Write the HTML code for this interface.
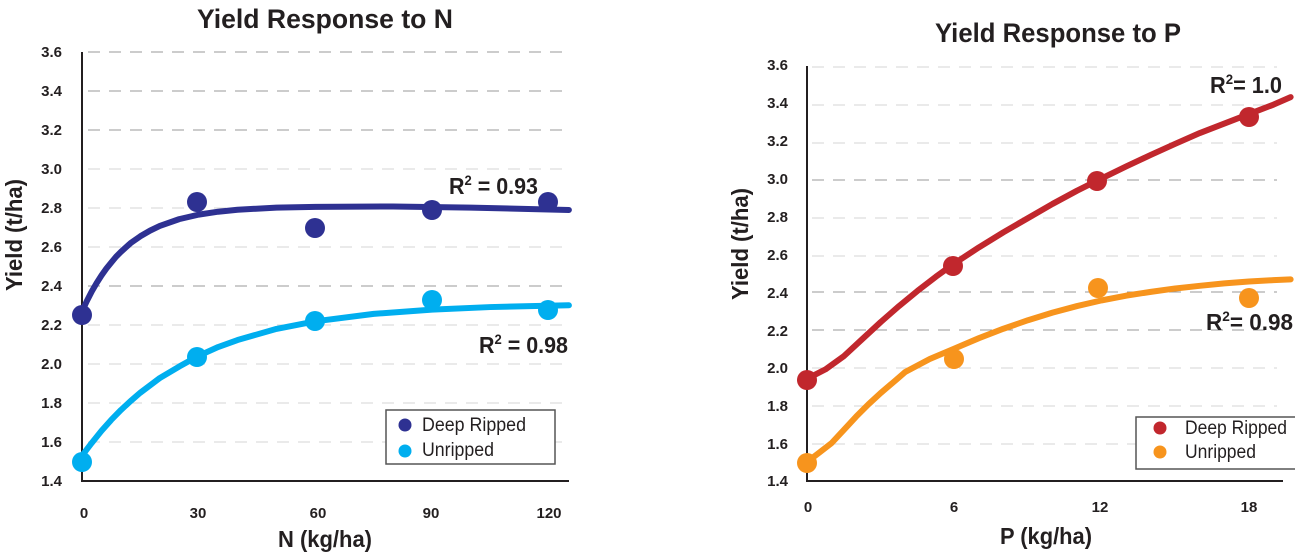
<!DOCTYPE html>
<html><head><meta charset="utf-8"><style>
html,body{margin:0;padding:0;background:#fff}
svg{display:block}
text{font-family:"Liberation Sans",sans-serif;fill:#231f20}
.t{font-weight:bold;font-size:27px}
.tk{font-weight:bold;font-size:15px}
.ax{font-weight:bold;font-size:23px}
.r{font-weight:bold;font-size:23px}
.lg{font-size:19px}
.g{stroke:#9a9a9a;stroke-width:1;stroke-dasharray:12 9}
.g2{stroke:#d6d6d6;stroke-width:1;stroke-dasharray:12 9}
</style></head><body>
<svg width="1295" height="552" viewBox="0 0 1295 552">
<!-- LEFT CHART -->
<text class="t" x="325" y="28" text-anchor="middle" textLength="256" lengthAdjust="spacingAndGlyphs">Yield Response to N</text>
<g>
<line class="g" x1="88" x2="563" y1="52" y2="52"/>
<line class="g" x1="88" x2="563" y1="91" y2="91"/>
<line class="g" x1="88" x2="563" y1="130" y2="130"/>
<line class="g2" x1="88" x2="563" y1="169" y2="169"/>
<line class="g2" x1="88" x2="563" y1="208" y2="208"/>
<line class="g2" x1="88" x2="563" y1="247" y2="247"/>
<line class="g" x1="88" x2="563" y1="286" y2="286"/>
<line class="g2" x1="88" x2="563" y1="325" y2="325"/>
<line class="g2" x1="88" x2="563" y1="364" y2="364"/>
<line class="g2" x1="88" x2="563" y1="403" y2="403"/>
<line class="g2" x1="88" x2="563" y1="442" y2="442"/>
</g>
<line x1="82" y1="52" x2="82" y2="482" stroke="#231f20" stroke-width="2"/>
<line x1="81" y1="481" x2="569" y2="481" stroke="#231f20" stroke-width="2"/>
<g text-anchor="end">
<text class="tk" x="62" y="57">3.6</text><text class="tk" x="62" y="96">3.4</text><text class="tk" x="62" y="135">3.2</text>
<text class="tk" x="62" y="174">3.0</text><text class="tk" x="62" y="213">2.8</text><text class="tk" x="62" y="252">2.6</text>
<text class="tk" x="62" y="291">2.4</text><text class="tk" x="62" y="330">2.2</text><text class="tk" x="62" y="369">2.0</text>
<text class="tk" x="62" y="408">1.8</text><text class="tk" x="62" y="447">1.6</text><text class="tk" x="62" y="486">1.4</text>
</g>
<g text-anchor="middle">
<text class="tk" x="84" y="518">0</text><text class="tk" x="198" y="518">30</text><text class="tk" x="318" y="518">60</text>
<text class="tk" x="431" y="518">90</text><text class="tk" x="549" y="518">120</text>
</g>
<text class="ax" x="278" y="547" textLength="94" lengthAdjust="spacingAndGlyphs">N (kg/ha)</text>
<text class="ax" transform="translate(22,235) rotate(-90)" x="-56" textLength="112" lengthAdjust="spacingAndGlyphs">Yield (t/ha)</text>
<g transform="matrix(3.889 0 0 -195 82 754)" fill="none" stroke-linejoin="round" stroke-linecap="round">
<polyline vector-effect="non-scaling-stroke" stroke="#2e3192" stroke-width="6" points="0,2.27 1.25,2.323 2.5,2.372 3.75,2.415 5,2.454 6.25,2.489 7.5,2.52 8.75,2.55 10,2.575 12.5,2.62 15,2.655 17.5,2.684 20,2.708 25,2.743 30,2.766 35,2.781 40,2.791 50,2.802 60,2.806 80,2.808 100,2.802 125.2,2.79"/>
<polyline vector-effect="non-scaling-stroke" stroke="#00aeef" stroke-width="6" points="0,1.53 2.5,1.595 5,1.657 7.5,1.713 10,1.764 12.5,1.81 15,1.853 20,1.928 25,1.987 30,2.042 35,2.087 40,2.123 50,2.18 60,2.219 75,2.257 90,2.279 105,2.292 125.2,2.301"/>
</g>
<g fill="#2e3192">
<circle cx="82" cy="315" r="10"/><circle cx="197" cy="202" r="10"/><circle cx="315" cy="228" r="10"/><circle cx="432" cy="210" r="10"/><circle cx="548" cy="202" r="10"/>
</g>
<g fill="#00aeef">
<circle cx="82" cy="462" r="10"/><circle cx="197" cy="357" r="10"/><circle cx="315" cy="321" r="10"/><circle cx="432" cy="300" r="10"/><circle cx="548" cy="310" r="10"/>
</g>
<text class="r" x="449" y="194" textLength="89" lengthAdjust="spacingAndGlyphs">R<tspan dy="-9" font-size="14">2</tspan><tspan dy="9"> = 0.93</tspan></text>
<text class="r" x="479" y="353" textLength="89" lengthAdjust="spacingAndGlyphs">R<tspan dy="-9" font-size="14">2</tspan><tspan dy="9"> = 0.98</tspan></text>
<rect x="386" y="410" width="169" height="54" fill="#fff" stroke="#555" stroke-width="1.5"/>
<circle cx="405" cy="425" r="6.5" fill="#2e3192"/>
<circle cx="405" cy="451" r="6.5" fill="#00aeef"/>
<text class="lg" x="422" y="431" textLength="104" lengthAdjust="spacingAndGlyphs">Deep Ripped</text>
<text class="lg" x="422" y="456" textLength="72" lengthAdjust="spacingAndGlyphs">Unripped</text>

<!-- RIGHT CHART -->
<text class="t" x="1058" y="42" text-anchor="middle" textLength="246" lengthAdjust="spacingAndGlyphs">Yield Response to P</text>
<g>
<line class="g2" x1="812" x2="1277" y1="67" y2="67"/>
<line class="g2" x1="812" x2="1277" y1="105" y2="105"/>
<line class="g2" x1="812" x2="1277" y1="143" y2="143"/>
<line class="g" x1="812" x2="1277" y1="180" y2="180"/>
<line class="g2" x1="812" x2="1277" y1="218" y2="218"/>
<line class="g2" x1="812" x2="1277" y1="256" y2="256"/>
<line class="g" x1="812" x2="1277" y1="292" y2="292"/>
<line class="g" x1="812" x2="1277" y1="330" y2="330"/>
<line class="g2" x1="812" x2="1277" y1="368" y2="368"/>
<line class="g2" x1="812" x2="1277" y1="406" y2="406"/>
<line class="g2" x1="812" x2="1277" y1="444" y2="444"/>
</g>
<line x1="807" y1="66" x2="807" y2="482" stroke="#231f20" stroke-width="2"/>
<line x1="806" y1="481" x2="1283" y2="481" stroke="#231f20" stroke-width="2"/>
<g text-anchor="end">
<text class="tk" x="788" y="70">3.6</text><text class="tk" x="788" y="108">3.4</text><text class="tk" x="788" y="146">3.2</text>
<text class="tk" x="788" y="184">3.0</text><text class="tk" x="788" y="222">2.8</text><text class="tk" x="788" y="260">2.6</text>
<text class="tk" x="788" y="298">2.4</text><text class="tk" x="788" y="336">2.2</text><text class="tk" x="788" y="373">2.0</text>
<text class="tk" x="788" y="411">1.8</text><text class="tk" x="788" y="449">1.6</text><text class="tk" x="788" y="486">1.4</text>
</g>
<g text-anchor="middle">
<text class="tk" x="808" y="512">0</text><text class="tk" x="954" y="512">6</text><text class="tk" x="1100" y="512">12</text><text class="tk" x="1249" y="512">18</text>
</g>
<text class="ax" x="1000" y="544" textLength="92" lengthAdjust="spacingAndGlyphs">P (kg/ha)</text>
<text class="ax" transform="translate(748,244) rotate(-90)" x="-56" textLength="112" lengthAdjust="spacingAndGlyphs">Yield (t/ha)</text>
<g transform="matrix(24.55 0 0 -189.1 807 745.7)" fill="none" stroke-linejoin="round" stroke-linecap="round">
<polyline vector-effect="non-scaling-stroke" stroke="#c1272d" stroke-width="6" points="0,1.94 0.75,1.99 1.5,2.06 2.25,2.15 3,2.24 3.75,2.325 4.5,2.405 5.25,2.48 6,2.55 7,2.635 8,2.715 9,2.79 10,2.865 11,2.935 12,3.0 13,3.063 14,3.124 15,3.183 16,3.24 17,3.29 18,3.34 19,3.39 19.7,3.43"/>
<polyline vector-effect="non-scaling-stroke" stroke="#f7941d" stroke-width="6" points="0,1.5 0.5,1.55 1,1.60 1.5,1.67 2,1.74 2.5,1.805 3,1.865 3.5,1.92 4,1.976 5,2.045 6,2.10 7,2.155 8,2.205 9,2.25 10,2.29 11,2.325 12,2.355 13,2.38 14,2.40 15,2.418 16,2.432 17,2.445 18,2.455 19,2.462 19.7,2.466"/>
</g>
<g fill="#c1272d">
<circle cx="807" cy="380" r="10"/><circle cx="953" cy="266" r="10"/><circle cx="1097" cy="181" r="10"/><circle cx="1249" cy="117" r="10"/>
</g>
<g fill="#f7941d">
<circle cx="807" cy="463" r="10"/><circle cx="954" cy="359" r="10"/><circle cx="1098" cy="288" r="10"/><circle cx="1249" cy="298" r="10"/>
</g>
<text class="r" x="1210" y="93" textLength="72" lengthAdjust="spacingAndGlyphs">R<tspan dy="-9" font-size="14">2</tspan><tspan dy="9">= 1.0</tspan></text>
<text class="r" x="1206" y="330" textLength="87" lengthAdjust="spacingAndGlyphs">R<tspan dy="-9" font-size="14">2</tspan><tspan dy="9">= 0.98</tspan></text>
<rect x="1136" y="417" width="165" height="52" fill="#fff" stroke="#555" stroke-width="1.5"/>
<circle cx="1160" cy="428" r="6.5" fill="#c1272d"/>
<circle cx="1160" cy="452" r="6.5" fill="#f7941d"/>
<text class="lg" x="1185" y="434" textLength="102" lengthAdjust="spacingAndGlyphs">Deep Ripped</text>
<text class="lg" x="1185" y="458" textLength="71" lengthAdjust="spacingAndGlyphs">Unripped</text>
</svg>
</body></html>
